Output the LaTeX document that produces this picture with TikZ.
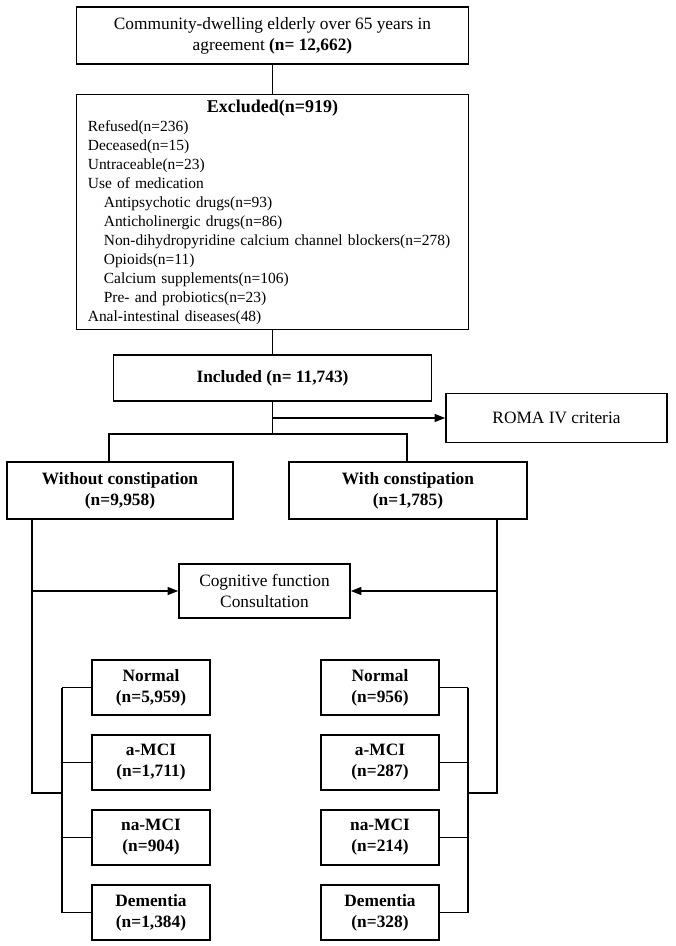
\documentclass[tikz,border=0pt]{standalone}
\usepackage{fontspec}
\setmainfont{Liberation Serif}
\usetikzlibrary{arrows.meta}

\tikzset{every picture/.style={line width=1pt}}
\tikzset{
  box/.style={draw, line width=1.2pt, inner sep=0.75pt, align=center, font=\fontsize{13}{15.75}\selectfont},
  boldbox/.style={box, font=\fontsize{13}{15.75}\selectfont\bfseries},
  group/.style={boldbox, minimum width=88.5pt, minimum height=41.25pt},
  conn/.style={line width=1pt},
  arr/.style={line width=1pt, -{Triangle[length=8pt,width=6pt]}}
}

\begin{document}
\begin{tikzpicture}[x=0.75pt,y=0.75pt,yscale=-1,xscale=1]
\useasboundingbox (0,0) rectangle (675,946);

% Text Node
\node [box, minimum width=294pt, minimum height=42.75pt] (agree) at (272.5,35.5) {Community-dwelling elderly over 65 years in\\ agreement \textbf{(n= 12,662)}};
% Text Node
\node [box, align=left, text width=277pt, inner xsep=8.5pt, minimum height=176.25pt, font=\fontsize{11.6}{14.25}\selectfont] (excl) at (272.5,212) {\makebox[\hsize]{\fontsize{13.5}{14.25}\selectfont\textbf{Excluded(n=919)}}\\
Refused(n=236)\\
Deceased(n=15)\\
Untraceable(n=23)\\
Use of medication\\
\hspace*{12pt}Antipsychotic drugs(n=93)\\
\hspace*{12pt}Anticholinergic drugs(n=86)\\
\hspace*{12pt}\mbox{Non-dihydropyridine calcium channel blockers(n=278)}\\
\hspace*{12pt}Opioids(n=11)\\
\hspace*{12pt}Calcium supplements(n=106)\\
\hspace*{12pt}Pre- and probiotics(n=23)\\
Anal-intestinal diseases(48)};
% Text Node
\node [boldbox, minimum width=238.5pt, minimum height=34.5pt] (incl) at (272.5,378) {Included (n= 11,743)};
% Text Node
\node [box, minimum width=165.75pt, minimum height=36.75pt] (roma) at (556.5,418) {ROMA IV criteria};
% Text Node
\node [boldbox, minimum width=169.5pt, minimum height=42.75pt] (without) at (120,490.5) {Without constipation\\(n=9,958)};
% Text Node
\node [boldbox, minimum width=178.5pt, minimum height=42.75pt] (with) at (408,490.5) {With constipation\\(n=1,785)};
% Text Node
\node [box, minimum width=128.25pt, minimum height=40.5pt] (cog) at (264.5,591) {Cognitive function\\Consultation};

% Text Node
\node [group] (lnormal) at (151,687.5) {Normal\\(n=5,959)};
% Text Node
\node [group] (lamci) at (151,762.5) {a-MCI\\(n=1,711)};
% Text Node
\node [group] (lnamci) at (151,837.5) {na-MCI\\(n=904)};
% Text Node
\node [group] (ldementia) at (151,912.5) {Dementia\\(n=1,384)};
% Text Node
\node [group] (rnormal) at (380,687.5) {Normal\\(n=956)};
% Text Node
\node [group] (ramci) at (380,762.5) {a-MCI\\(n=287)};
% Text Node
\node [group] (rnamci) at (380,837.5) {na-MCI\\(n=214)};
% Text Node
\node [group] (rdementia) at (380,912.5) {Dementia\\(n=328)};

\coordinate (split) at (272.5,434);
\coordinate (splitL) at (109,434);
\coordinate (splitR) at (407,434);
\coordinate (lfork) at (32,793);
\coordinate (lbus) at (62,793);
\coordinate (rfork) at (497,793);
\coordinate (rbus) at (468,793);

% Connection
\draw [conn] (agree) -- (excl);
% Connection
\draw [conn] (excl) -- (incl);
% Connection
\draw [conn] (incl) -- (split);
% Connection
\draw [arr] (incl.south |- roma.west) -- (roma.west);
% Connection
\draw [conn] (without.north -| splitL) -- (splitL) -- (splitR) -- (with.north -| splitR);
% Connection
\draw [conn] (without.south -| lfork) -- (lfork) -- (lbus);
% Connection
\draw [conn] (with.south -| rfork) -- (rfork) -- (rbus);
% Connection
\draw [arr] (cog.west -| lfork) -- (cog.west);
% Connection
\draw [arr] (cog.east -| rfork) -- (cog.east);
% Connection
\draw [conn] (lbus |- lnormal.west) -- (lbus |- ldementia.west);
\draw [conn] (lbus |- lnormal.west) -- (lnormal.west);
\draw [conn] (lbus |- lamci.west) -- (lamci.west);
\draw [conn] (lbus |- lnamci.west) -- (lnamci.west);
\draw [conn] (lbus |- ldementia.west) -- (ldementia.west);
% Connection
\draw [conn] (rbus |- rnormal.east) -- (rbus |- rdementia.east);
\draw [conn] (rbus |- rnormal.east) -- (rnormal.east);
\draw [conn] (rbus |- ramci.east) -- (ramci.east);
\draw [conn] (rbus |- rnamci.east) -- (rnamci.east);
\draw [conn] (rbus |- rdementia.east) -- (rdementia.east);

\end{tikzpicture}
\end{document}
